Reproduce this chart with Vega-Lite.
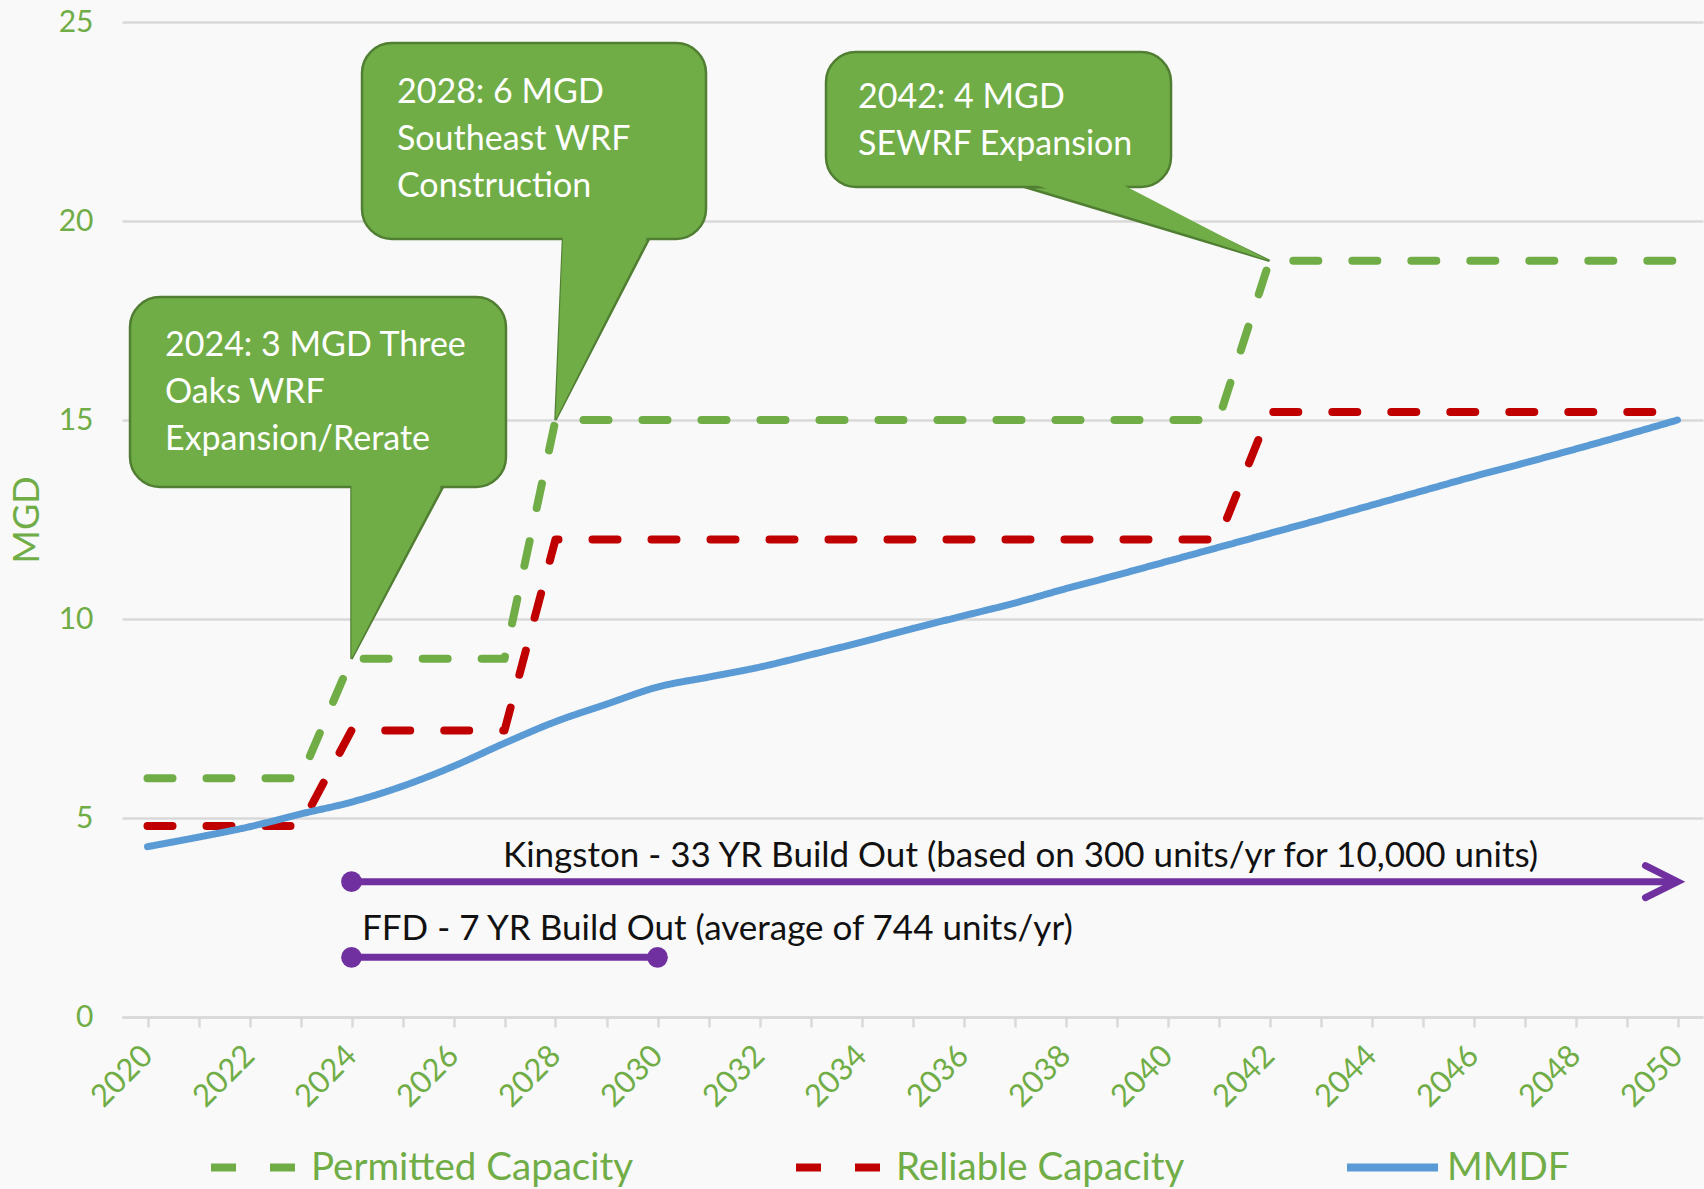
{
  "$schema": "https://vega.github.io/schema/vega-lite/v6.json",
  "autosize": {"type": "none"},
  "padding": {"left": 122, "top": 22, "right": 1, "bottom": 172},
  "width": 1581,
  "height": 995,
  "background": "#f9f9f9",
  "config": {"view": {"stroke": null}, "font": "Lato"},
  "datasets": {
    "steps": [
      {"year": 2020, "value": 6, "series": "Permitted Capacity"},
      {"year": 2023, "value": 6, "series": "Permitted Capacity"},
      {"year": 2024, "value": 9, "series": "Permitted Capacity"},
      {"year": 2027, "value": 9, "series": "Permitted Capacity"},
      {"year": 2028, "value": 15, "series": "Permitted Capacity"},
      {"year": 2041, "value": 15, "series": "Permitted Capacity"},
      {"year": 2042, "value": 19, "series": "Permitted Capacity"},
      {"year": 2050, "value": 19, "series": "Permitted Capacity"},
      {"year": 2020, "value": 4.8, "series": "Reliable Capacity"},
      {"year": 2023, "value": 4.8, "series": "Reliable Capacity"},
      {"year": 2024, "value": 7.2, "series": "Reliable Capacity"},
      {"year": 2027, "value": 7.2, "series": "Reliable Capacity"},
      {"year": 2028, "value": 12, "series": "Reliable Capacity"},
      {"year": 2041, "value": 12, "series": "Reliable Capacity"},
      {"year": 2042, "value": 15.2, "series": "Reliable Capacity"},
      {"year": 2050, "value": 15.2, "series": "Reliable Capacity"}
    ],
    "mmdf": [
      {"year": 2020, "value": 4.28, "series": "MMDF"},
      {"year": 2021, "value": 4.52, "series": "MMDF"},
      {"year": 2022, "value": 4.78, "series": "MMDF"},
      {"year": 2023, "value": 5.1, "series": "MMDF"},
      {"year": 2024, "value": 5.4, "series": "MMDF"},
      {"year": 2025, "value": 5.8, "series": "MMDF"},
      {"year": 2026, "value": 6.3, "series": "MMDF"},
      {"year": 2027, "value": 6.88, "series": "MMDF"},
      {"year": 2028, "value": 7.42, "series": "MMDF"},
      {"year": 2029, "value": 7.86, "series": "MMDF"},
      {"year": 2030, "value": 8.29, "series": "MMDF"},
      {"year": 2031, "value": 8.54, "series": "MMDF"},
      {"year": 2032, "value": 8.79, "series": "MMDF"},
      {"year": 2033, "value": 9.1, "series": "MMDF"},
      {"year": 2034, "value": 9.42, "series": "MMDF"},
      {"year": 2035, "value": 9.76, "series": "MMDF"},
      {"year": 2036, "value": 10.08, "series": "MMDF"},
      {"year": 2037, "value": 10.4, "series": "MMDF"},
      {"year": 2038, "value": 10.76, "series": "MMDF"},
      {"year": 2039, "value": 11.1, "series": "MMDF"},
      {"year": 2040, "value": 11.45, "series": "MMDF"},
      {"year": 2041, "value": 11.8, "series": "MMDF"},
      {"year": 2042, "value": 12.15, "series": "MMDF"},
      {"year": 2043, "value": 12.5, "series": "MMDF"},
      {"year": 2044, "value": 12.86, "series": "MMDF"},
      {"year": 2045, "value": 13.22, "series": "MMDF"},
      {"year": 2046, "value": 13.58, "series": "MMDF"},
      {"year": 2047, "value": 13.92, "series": "MMDF"},
      {"year": 2048, "value": 14.27, "series": "MMDF"},
      {"year": 2049, "value": 14.63, "series": "MMDF"},
      {"year": 2050, "value": 15.0, "series": "MMDF"}
    ],
    "tails": [
      {"id": 1, "ty": 9, "tx1": 2024, "tx2": 2024},
      {"id": 1, "ty": 13.317, "tx1": 2024, "tx2": 2025.794},
      {"id": 2, "ty": 15, "tx1": 2028, "tx2": 2028},
      {"id": 2, "ty": 19.548, "tx1": 2028.147, "tx2": 2029.833},
      {"id": 3, "ty": 19, "tx1": 2042, "tx2": 2042},
      {"id": 3, "ty": 20.854, "tx1": 2037.2, "tx2": 2039.0}
    ],
    "tailsFill": [
      {"id": 1, "ty": 9, "tx1": 2024, "tx2": 2024},
      {"id": 1, "ty": 13.45, "tx1": 2024, "tx2": 2025.794},
      {"id": 2, "ty": 15, "tx1": 2028, "tx2": 2028},
      {"id": 2, "ty": 19.68, "tx1": 2028.147, "tx2": 2029.833},
      {"id": 3, "ty": 19, "tx1": 2042, "tx2": 2042},
      {"id": 3, "ty": 20.99, "tx1": 2037.2, "tx2": 2039.0}
    ],
    "boxes": [
      {"id": 1, "bx1": 2019.657, "bx2": 2027.029, "by1": 13.317, "by2": 18.09},
      {"id": 2, "bx1": 2024.206, "bx2": 2030.951, "by1": 19.548, "by2": 24.472},
      {"id": 3, "bx1": 2033.304, "bx2": 2040.069, "by1": 20.854, "by2": 24.246}
    ],
    "calloutText": [
      {"tx": 2020.343, "ty": 16.608, "label": "2024: 3 MGD Three\nOaks WRF\nExpansion/Rerate"},
      {"tx": 2024.892, "ty": 22.965, "label": "2028: 6 MGD\nSoutheast WRF\nConstruction"},
      {"tx": 2033.931, "ty": 22.827, "label": "2042: 4 MGD\nSEWRF Expansion"}
    ],
    "bars": [
      {"name": "Kingston", "x1": 2024, "x2": 2050, "y": 3.4},
      {"name": "FFD", "x1": 2024, "x2": 2030, "y": 1.5}
    ],
    "dots": [
      {"x": 2024, "y": 3.4},
      {"x": 2024, "y": 1.5},
      {"x": 2030, "y": 1.5}
    ],
    "arrow": [
      {"x": 2050, "y": 3.4}
    ],
    "notes": [
      {"x": 2026.97, "y": 4.045, "label": "Kingston - 33 YR Build Out (based on 300 units/yr for 10,000 units)"},
      {"x": 2024.206, "y": 2.211, "label": "FFD - 7 YR Build Out (average of 744 units/yr)"}
    ]
  },
  "layer": [
    {
      "data": {"name": "tails"},
      "mark": {"type": "area", "orient": "horizontal", "fill": "#70ad47", "stroke": "#507e32", "strokeWidth": 2.5, "opacity": 1, "fillOpacity": 1},
      "encoding": {
        "y": {"field": "ty", "type": "quantitative", "scale": {"domain": [0, 25], "nice": false}},
        "x": {"field": "tx1", "type": "quantitative", "stack": null, "scale": {"domain": [2019.5, 2050.5], "nice": false, "zero": false}},
        "x2": {"field": "tx2"},
        "detail": {"field": "id", "type": "nominal"}
      }
    },
    {
      "data": {"name": "boxes"},
      "mark": {"type": "rect", "fill": "#70ad47", "stroke": "#507e32", "strokeWidth": 2.5, "cornerRadius": 30},
      "encoding": {
        "x": {"field": "bx1", "type": "quantitative", "scale": {"domain": [2019.5, 2050.5], "nice": false, "zero": false}},
        "x2": {"field": "bx2"},
        "y": {"field": "by1", "type": "quantitative", "scale": {"domain": [0, 25], "nice": false}},
        "y2": {"field": "by2"}
      }
    },
    {
      "data": {"name": "tailsFill"},
      "mark": {"type": "area", "orient": "horizontal", "fill": "#70ad47", "strokeWidth": 0, "opacity": 1, "fillOpacity": 1},
      "encoding": {
        "y": {"field": "ty", "type": "quantitative", "scale": {"domain": [0, 25], "nice": false}},
        "x": {"field": "tx1", "type": "quantitative", "stack": null, "scale": {"domain": [2019.5, 2050.5], "nice": false, "zero": false}},
        "x2": {"field": "tx2"},
        "detail": {"field": "id", "type": "nominal"}
      }
    },
    {
      "data": {"name": "steps"},
      "mark": {"type": "line", "strokeWidth": 8, "strokeCap": "round", "strokeJoin": "round", "interpolate": "linear"},
      "encoding": {
        "x": {
          "field": "year", "type": "quantitative",
          "scale": {"domain": [2019.5, 2050.5], "nice": false, "zero": false},
          "axis": {
            "values": [2020,2021,2022,2023,2024,2025,2026,2027,2028,2029,2030,2031,2032,2033,2034,2035,2036,2037,2038,2039,2040,2041,2042,2043,2044,2045,2046,2047,2048,2049,2050],
            "labelExpr": "datum.value % 2 === 0 ? format(datum.value, 'd') : ''",
            "labelAngle": -45, "labelAlign": "right", "labelBaseline": "middle",
            "labelPadding": 24, "labelFontSize": 31, "labelFont": "Lato", "labelColor": "#70ad47",
            "labelOverlap": false, "labelFlush": false,
            "tickSize": 10, "tickColor": "#d9d9d9", "tickWidth": 2.5,
            "domainColor": "#d9d9d9", "domainWidth": 2.5,
            "grid": false, "title": null
          }
        },
        "y": {
          "field": "value", "type": "quantitative",
          "scale": {"domain": [0, 25], "nice": false},
          "axis": {
            "values": [0, 5, 10, 15, 20, 25],
            "grid": true, "gridColor": "#d9d9d9", "gridWidth": 2.5,
            "domain": false, "ticks": false, "tickSize": 0,
            "labelPadding": 29, "labelFontSize": 30, "labelFont": "Lato", "labelColor": "#70ad47",
            "title": "MGD", "titleFontSize": 36, "titleFont": "Lato", "titleColor": "#70ad47",
            "titleFontWeight": "normal", "titlePadding": 12
          }
        },
        "color": {
          "field": "series", "type": "nominal",
          "scale": {"domain": ["Permitted Capacity", "Reliable Capacity", "MMDF"], "range": ["#70ad47", "#c00000", "#5b9bd5"]},
          "legend": {
            "orient": "none", "legendX": 85, "legendY": 1096, "direction": "horizontal",
            "title": null, "padding": 0, "columns": 3, "columnPadding": 146,
            "symbolType": "stroke", "symbolSize": 8281, "symbolStrokeWidth": 8,
            "labelFontSize": 38.5, "labelFont": "Lato", "labelColor": "#70ad47", "labelOffset": 5,
            "labelLimit": 0
          }
        },
        "strokeDash": {
          "field": "series", "type": "nominal",
          "scale": {"domain": ["Permitted Capacity", "Reliable Capacity", "MMDF"], "range": [[25, 34], [25, 34], [1, 0]]}
        }
      }
    },
    {
      "data": {"name": "mmdf"},
      "mark": {"type": "line", "strokeWidth": 7, "strokeCap": "round", "strokeJoin": "round", "interpolate": "monotone"},
      "encoding": {
        "x": {"field": "year", "type": "quantitative", "scale": {"domain": [2019.5, 2050.5], "nice": false, "zero": false}},
        "y": {"field": "value", "type": "quantitative", "scale": {"domain": [0, 25], "nice": false}},
        "color": {
          "field": "series", "type": "nominal",
          "scale": {"domain": ["Permitted Capacity", "Reliable Capacity", "MMDF"], "range": ["#70ad47", "#c00000", "#5b9bd5"]}
        },
        "strokeDash": {
          "field": "series", "type": "nominal",
          "scale": {"domain": ["Permitted Capacity", "Reliable Capacity", "MMDF"], "range": [[25, 34], [25, 34], [1, 0]]}
        }
      }
    },
    {
      "data": {"name": "calloutText"},
      "mark": {"type": "text", "align": "left", "baseline": "alphabetic", "fontSize": 34, "font": "Lato", "lineHeight": 47, "lineBreak": "\n", "fill": "#ffffff"},
      "encoding": {
        "x": {"field": "tx", "type": "quantitative", "scale": {"domain": [2019.5, 2050.5], "nice": false, "zero": false}},
        "y": {"field": "ty", "type": "quantitative", "scale": {"domain": [0, 25], "nice": false}},
        "text": {"field": "label"}
      }
    },
    {
      "data": {"name": "bars"},
      "mark": {"type": "rule", "color": "#7030a0", "strokeWidth": 7},
      "encoding": {
        "x": {"field": "x1", "type": "quantitative", "scale": {"domain": [2019.5, 2050.5], "nice": false, "zero": false}},
        "x2": {"field": "x2"},
        "y": {"field": "y", "type": "quantitative", "scale": {"domain": [0, 25], "nice": false}}
      }
    },
    {
      "data": {"name": "dots"},
      "mark": {"type": "point", "shape": "circle", "filled": true, "color": "#7030a0", "size": 430, "opacity": 1},
      "encoding": {
        "x": {"field": "x", "type": "quantitative", "scale": {"domain": [2019.5, 2050.5], "nice": false, "zero": false}},
        "y": {"field": "y", "type": "quantitative", "scale": {"domain": [0, 25], "nice": false}}
      }
    },
    {
      "data": {"name": "arrow"},
      "mark": {"type": "point", "shape": "M-1,-0.5L0,0L-1,0.5", "filled": false, "stroke": "#7030a0", "strokeWidth": 7, "strokeCap": "round", "strokeJoin": "miter", "size": 4096, "opacity": 1},
      "encoding": {
        "x": {"field": "x", "type": "quantitative", "scale": {"domain": [2019.5, 2050.5], "nice": false, "zero": false}},
        "y": {"field": "y", "type": "quantitative", "scale": {"domain": [0, 25], "nice": false}}
      }
    },
    {
      "data": {"name": "notes"},
      "mark": {"type": "text", "align": "left", "baseline": "middle", "fontSize": 35, "font": "Lato", "fill": "#111111"},
      "encoding": {
        "x": {"field": "x", "type": "quantitative", "scale": {"domain": [2019.5, 2050.5], "nice": false, "zero": false}},
        "y": {"field": "y", "type": "quantitative", "scale": {"domain": [0, 25], "nice": false}},
        "text": {"field": "label"}
      }
    }
  ]
}
